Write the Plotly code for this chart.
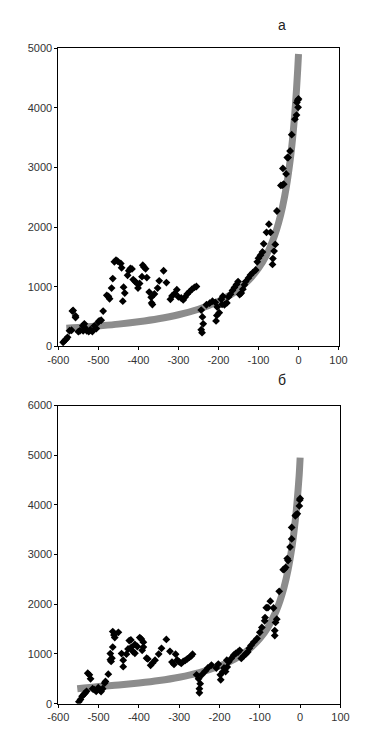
import plotly.graph_objects as go

# ---- data ----
curve_a_x = [-580, -550, -500, -450, -400, -350, -300, -250, -200, -175, -150, -125, -100, -80, -60, -50, -40, -30, -20, -15, -10, -5, -2, 0]
curve_a_y = [305, 318, 345, 375, 415, 465, 532, 625, 757, 846, 960, 1108, 1311, 1536, 1855, 2069, 2340, 2692, 3168, 3476, 3849, 4313, 4649, 4904]

curve_b_x = [-553, -500, -450, -400, -350, -300, -250, -200, -175, -150, -125, -100, -80, -60, -50, -40, -30, -20, -15, -10, -5, -2, 0]
curve_b_y = [300, 345, 375, 415, 465, 532, 625, 757, 846, 960, 1108, 1311, 1536, 1855, 2069, 2340, 2692, 3168, 3476, 3849, 4313, 4649, 4950]

pts_a_x = [-588, -584, -580, -577, -572, -567, -565, -563, -557, -557, -550, -546, -539, -538, -535, -534, -529, -524, -520, -515, -510, -505, -500, -498, -493, -488, -479, -475, -472, -467, -464, -460, -456, -452, -444, -442, -439, -437, -434, -427, -424, -420, -416, -413, -408, -404, -401, -397, -391, -389, -386, -382, -379, -373, -368, -367, -365, -360, -352, -348, -337, -330, -320, -316, -309, -304, -300, -293, -288, -283, -278, -272, -266, -260, -255, -243, -240, -243, -241, -238, -230, -222, -215, -208, -206, -204, -203, -198, -193, -191, -189, -185, -179, -175, -170, -165, -160, -155, -151, -147, -143, -139, -135, -132, -125, -120, -114, -107, -103, -100, -95, -90, -87, -80, -74, -70, -65, -64, -61, -58, -54, -44, -40, -37, -39, -31, -28, -26, -21, -17, -9, -5, -4, -2, -1, 0]
pts_a_y = [71, 99, 127, 153, 264, 272, 594, 605, 484, 512, 248, 264, 347, 264, 380, 319, 264, 248, 280, 250, 347, 300, 410, 429, 440, 594, 858, 841, 800, 979, 1139, 1420, 1447, 1430, 1391, 1320, 759, 995, 896, 1193, 1270, 1308, 1300, 1122, 1089, 1061, 979, 1056, 1171, 1364, 1330, 1303, 1155, 912, 825, 731, 704, 880, 979, 1100, 1270, 1072, 790, 846, 891, 952, 830, 813, 780, 830, 880, 920, 960, 990, 1006, 610, 495, 280, 231, 380, 700, 726, 759, 740, 429, 520, 660, 566, 792, 705, 842, 700, 731, 830, 875, 940, 990, 1040, 1089, 870, 896, 960, 1034, 1089, 1150, 1200, 1240, 1282, 1419, 1480, 1530, 1584, 1721, 1914, 2051, 1914, 1375, 1474, 1600, 1711, 2272, 2701, 2706, 2722, 2986, 2893, 3168, 3168, 3278, 3552, 3811, 3880, 4092, 4130, 4010, 4150]

pts_b_x = [-549, -545, -541, -537, -533, -530, -527, -523, -520, -515, -511, -506, -501, -498, -494, -490, -485, -483, -476, -471, -469, -467, -471, -465, -462, -460, -465, -451, -443, -439, -439, -431, -427, -424, -420, -419, -415, -410, -410, -404, -398, -394, -389, -389, -392, -381, -378, -371, -366, -360, -351, -344, -332, -323, -318, -313, -309, -305, -300, -295, -290, -285, -280, -275, -270, -267, -257, -252, -248, -250, -250, -244, -236, -229, -220, -208, -203, -198, -197, -192, -189, -185, -182, -181, -177, -171, -165, -160, -154, -150, -146, -140, -135, -130, -126, -122, -115, -107, -100, -95, -88, -87, -84, -80, -74, -66, -58, -61, -63, -63, -52, -42, -39, -36, -32, -30, -25, -21, -21, -12, -10, -7, -2, -1, 0]
pts_b_y = [40, 85, 150, 184, 218, 249, 613, 580, 500, 300, 283, 250, 322, 280, 243, 300, 415, 447, 593, 886, 850, 916, 1009, 1450, 1380, 1331, 1139, 1436, 1009, 876, 744, 995, 1100, 1270, 1282, 1133, 1050, 1015, 1192, 1150, 1331, 1300, 1238, 1139, 1074, 916, 900, 771, 820, 876, 999, 1114, 1292, 1054, 837, 790, 995, 880, 840, 810, 850, 870, 900, 930, 960, 995, 580, 500, 402, 300, 218, 580, 650, 718, 777, 718, 797, 580, 481, 640, 718, 645, 876, 738, 843, 910, 975, 1010, 1040, 1074, 910, 960, 1000, 1040, 1113, 1173, 1240, 1311, 1436, 1535, 1667, 1733, 1931, 1931, 2063, 1925, 1701, 1634, 1470, 1371, 2261, 2696, 2710, 2742, 2920, 2880, 3151, 3316, 3547, 3780, 3804, 3820, 3980, 4100, 4130]

x_ticks = [-600, -500, -400, -300, -200, -100, 0, 100]
x_tick_labels = ["-600", "-500", "-400", "-300", "-200", "-100", "0", "100"]
y_ticks_a = [0, 1000, 2000, 3000, 4000, 5000]
y_ticks_b = [0, 1000, 2000, 3000, 4000, 5000, 6000]
panel_labels = ["а", "б"]

GRAY = "#8c8c8c"
W, H = 375, 751

fig = go.Figure()
fig.add_trace(go.Scatter(x=curve_a_x, y=curve_a_y, mode="lines", line=dict(color=GRAY, width=7, shape="spline"),
                         xaxis="x", yaxis="y", showlegend=False, hoverinfo="skip"))
fig.add_trace(go.Scatter(x=pts_a_x, y=pts_a_y, mode="markers", marker=dict(symbol="diamond", size=6, color="black"),
                         xaxis="x", yaxis="y", showlegend=False))
fig.add_trace(go.Scatter(x=curve_b_x, y=curve_b_y, mode="lines", line=dict(color=GRAY, width=7, shape="spline"),
                         xaxis="x2", yaxis="y2", showlegend=False, hoverinfo="skip"))
fig.add_trace(go.Scatter(x=pts_b_x, y=pts_b_y, mode="markers", marker=dict(symbol="diamond", size=6, color="black"),
                         xaxis="x2", yaxis="y2", showlegend=False))

font = dict(family="Liberation Sans, Arial, sans-serif", size=11, color="#333333")
axis_common = dict(showgrid=False, zeroline=False, showline=True, linecolor="black", linewidth=1, mirror=True,
                   ticks="outside", ticklen=3, tickcolor="black", tickfont=font)

title_font = dict(family="Liberation Sans, Arial, sans-serif", size=14, color="#222222")

fig.update_layout(
    width=W, height=H, autosize=False,
    margin=dict(l=0, r=0, t=0, b=0),
    paper_bgcolor="white", plot_bgcolor="white",
    xaxis=dict(domain=[50 / W, 346 / W], range=[-600, 100], tickvals=x_ticks, ticktext=x_tick_labels,
               anchor="y", **axis_common),
    yaxis=dict(domain=[(H - 346) / H, (H - 43) / H], range=[0, 5000], tickvals=y_ticks_a,
               ticktext=[str(v) for v in y_ticks_a], anchor="x", **axis_common),
    xaxis2=dict(domain=[50 / W, 348 / W], range=[-600, 100], tickvals=x_ticks, ticktext=x_tick_labels,
                anchor="y2", **axis_common),
    yaxis2=dict(domain=[(H - 709) / H, (H - 406) / H], range=[0, 6000], tickvals=y_ticks_b,
                ticktext=[str(v) for v in y_ticks_b], anchor="x2", **axis_common),
    annotations=[
        dict(text=panel_labels[0], x=286 / W, y=(H - 19) / H, xref="paper", yref="paper", showarrow=False,
             xanchor="center", yanchor="middle", font=title_font),
        dict(text=panel_labels[1], x=286 / W, y=(H - 380) / H, xref="paper", yref="paper", showarrow=False,
             xanchor="center", yanchor="middle", font=title_font),
    ],
)

fig.write_html("out.html")
